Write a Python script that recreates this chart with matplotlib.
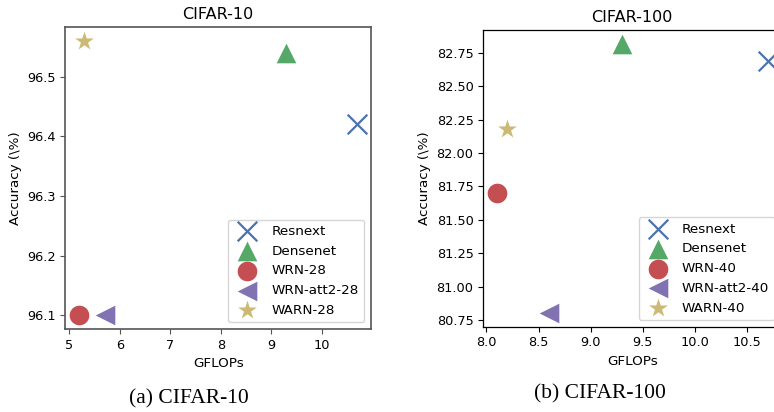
import matplotlib.pyplot as plt
from matplotlib.ticker import MultipleLocator

# Data
models_10 = ['Resnext', 'Densenet', 'WRN-28', 'WRN-att2-28', 'WARN-28']
gflops_10 = [10.7, 9.3, 5.2, 5.7, 5.3]
acc_10 = [96.42, 96.54, 96.10, 96.10, 96.56]

models_100 = ['Resnext', 'Densenet', 'WRN-40', 'WRN-att2-40', 'WARN-40']
gflops_100 = [10.7, 9.3, 8.1, 8.6, 8.2]
acc_100 = [82.69, 82.82, 81.70, 80.80, 82.18]

markers = ['x', '^', 'o', '<', '*']
colors = ['#4C72B0', '#55A868', '#C44E52', '#8172B2', '#CCB974']

fig = plt.figure(figsize=(7.74, 4.12), dpi=100)
ax1 = fig.add_axes([0.0846, 0.2015, 0.3947, 0.733])
ax2 = fig.add_axes([0.6244, 0.207, 0.385, 0.720])


def draw(ax, gflops, acc, names, title, spine_color, spine_lw):
    for g, a, name, m, c in zip(gflops, acc, names, markers, colors):
        if m == 'x':
            ax.scatter(g, a, marker=m, s=200, color=c, linewidths=1.6, label=name)
        else:
            ax.scatter(g, a, marker=m, s=200, color=c, linewidths=0, label=name)
    ax.set_title(title, fontsize=11.5)
    ax.set_xlabel('GFLOPs', fontsize=9.7)
    ax.set_ylabel('Accuracy (\\%)', fontsize=9.7)
    ax.tick_params(labelsize=9.3, length=3.5, color=spine_color)
    for sp in ax.spines.values():
        sp.set_color(spine_color)
        sp.set_linewidth(spine_lw)
    ax.legend(loc='lower right', fontsize=9.7)


draw(ax1, gflops_10, acc_10, models_10, 'CIFAR-10', '#555555', 1.2)
ax1.xaxis.set_major_locator(MultipleLocator(1))
ax1.yaxis.set_major_locator(MultipleLocator(0.1))

draw(ax2, gflops_100, acc_100, models_100, 'CIFAR-100', 'black', 0.9)
ax2.xaxis.set_major_locator(MultipleLocator(0.5))
ax2.yaxis.set_major_locator(MultipleLocator(0.25))
ax2.yaxis.set_major_formatter(plt.FormatStrFormatter('%.2f'))

# sub-figure captions
fig.text(0.244, 0.033, '(a) CIFAR-10', family='Liberation Serif', fontsize=15.5,
         ha='center', va='center')
fig.text(0.775, 0.043, '(b) CIFAR-100', family='Liberation Serif', fontsize=15.5,
         ha='center', va='center')

fig.savefig('out.png', dpi=100)
